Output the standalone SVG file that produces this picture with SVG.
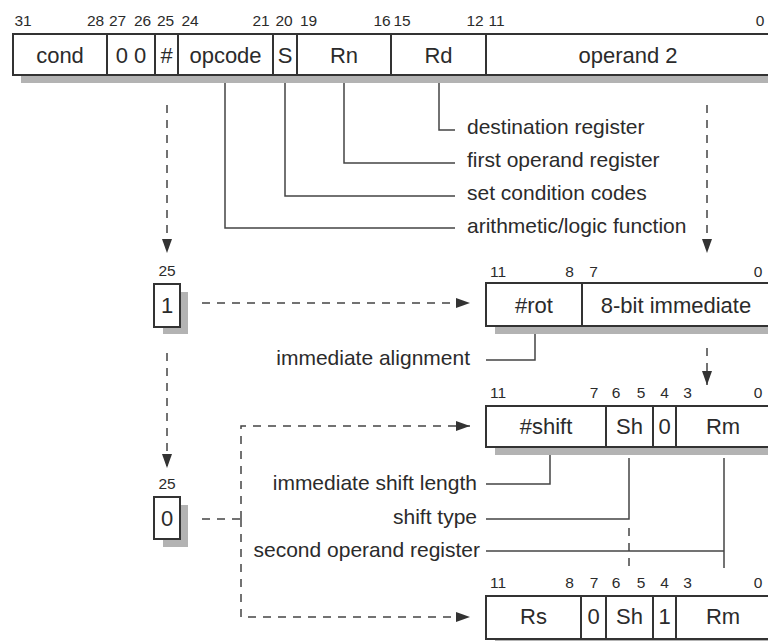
<svg xmlns="http://www.w3.org/2000/svg" width="768" height="641" viewBox="0 0 768 641">
<defs>
<style>
.box{fill:#fff;stroke:#333;stroke-width:2}
.sh{fill:#b3b3b3}
.div{stroke:#333;stroke-width:2}
.ft{font-family:"Liberation Sans",Arial,sans-serif;font-size:22px;fill:#2b2b2b;text-anchor:middle}
.bn{font-family:"Liberation Sans",Arial,sans-serif;font-size:15.5px;fill:#2b2b2b;text-anchor:middle}
.lb{font-family:"Liberation Sans",Arial,sans-serif;font-size:21px;fill:#2b2b2b}
.ld{fill:none;stroke:#444;stroke-width:1.5}
.da{fill:none;stroke:#444;stroke-width:1.5;stroke-dasharray:8 7}
</style>
<marker id="ah" markerUnits="userSpaceOnUse" markerWidth="14" markerHeight="10" refX="14" refY="5" orient="auto" viewBox="0 0 14 10">
<path d="M0,0 L14,5 L0,10 z" fill="#333"/>
</marker>
</defs>
<rect width="768" height="641" fill="#fff"/>

<g id="instruction-word">
<rect class="sh" x="21" y="42" width="760" height="41"/>
<rect class="box" x="13" y="34" width="770" height="41"/>
<line class="div" x1="107" y1="34" x2="107" y2="75"/>
<line class="div" x1="155" y1="34" x2="155" y2="75"/>
<line class="div" x1="178" y1="34" x2="178" y2="75"/>
<line class="div" x1="273" y1="34" x2="273" y2="75"/>
<line class="div" x1="297" y1="34" x2="297" y2="75"/>
<line class="div" x1="391" y1="34" x2="391" y2="75"/>
<line class="div" x1="486" y1="34" x2="486" y2="75"/>
<text class="ft" x="60" y="63">cond</text>
<text class="ft" x="131" y="63">0 0</text>
<text class="ft" x="166.5" y="63">#</text>
<text class="ft" x="225.5" y="63">opcode</text>
<text class="ft" x="285" y="63">S</text>
<text class="ft" x="344" y="63">Rn</text>
<text class="ft" x="438.5" y="63">Rd</text>
<text class="ft" x="628" y="63">operand 2</text>
<text class="bn" x="23" y="26">31</text>
<text class="bn" x="95.5" y="26">28</text>
<text class="bn" x="117.5" y="26">27</text>
<text class="bn" x="142.5" y="26">26</text>
<text class="bn" x="165.5" y="26">25</text>
<text class="bn" x="190" y="26">24</text>
<text class="bn" x="261" y="26">21</text>
<text class="bn" x="284" y="26">20</text>
<text class="bn" x="308.5" y="26">19</text>
<text class="bn" x="382" y="26">16</text>
<text class="bn" x="402" y="26">15</text>
<text class="bn" x="475" y="26">12</text>
<text class="bn" x="496.5" y="26">11</text>
<text class="bn" x="760" y="26">0</text>
</g>

<g id="bit25-one">
<rect class="sh" x="163" y="292" width="25" height="42"/>
<rect class="box" x="154" y="284" width="26" height="43"/>
<text class="ft" x="167" y="313">1</text>
<text class="bn" x="167" y="276">25</text>
</g>

<g id="bit25-zero">
<rect class="sh" x="163" y="505" width="25" height="42"/>
<rect class="box" x="154" y="497" width="26" height="42"/>
<text class="ft" x="167" y="526">0</text>
<text class="bn" x="167" y="489">25</text>
</g>

<g id="immediate-operand">
<rect class="sh" x="495" y="291" width="290" height="43"/>
<rect class="box" x="486" y="283" width="290" height="43"/>
<line class="div" x1="582" y1="283" x2="582" y2="326"/>
<text class="ft" x="534" y="313">#rot</text>
<text class="ft" x="676" y="313">8-bit immediate</text>
<text class="bn" x="498" y="277">11</text>
<text class="bn" x="569.5" y="277">8</text>
<text class="bn" x="593.5" y="277">7</text>
<text class="bn" x="758" y="277">0</text>
</g>

<g id="shift-immediate-operand">
<rect class="sh" x="495" y="414" width="290" height="41"/>
<rect class="box" x="486" y="406" width="290" height="41"/>
<line class="div" x1="606" y1="406" x2="606" y2="447"/>
<line class="div" x1="653" y1="406" x2="653" y2="447"/>
<line class="div" x1="676" y1="406" x2="676" y2="447"/>
<text class="ft" x="546" y="434">#shift</text>
<text class="ft" x="629.5" y="434">Sh</text>
<text class="ft" x="664.5" y="434">0</text>
<text class="ft" x="723" y="434">Rm</text>
<text class="bn" x="498" y="398">11</text>
<text class="bn" x="594" y="398">7</text>
<text class="bn" x="616" y="398">6</text>
<text class="bn" x="641" y="398">5</text>
<text class="bn" x="664.5" y="398">4</text>
<text class="bn" x="687.5" y="398">3</text>
<text class="bn" x="758" y="398">0</text>
</g>

<g id="shift-register-operand">
<rect class="sh" x="495" y="604" width="290" height="43"/>
<rect class="box" x="486" y="596" width="290" height="43"/>
<line class="div" x1="581" y1="596" x2="581" y2="639"/>
<line class="div" x1="606" y1="596" x2="606" y2="639"/>
<line class="div" x1="653" y1="596" x2="653" y2="639"/>
<line class="div" x1="676" y1="596" x2="676" y2="639"/>
<text class="ft" x="533.5" y="624">Rs</text>
<text class="ft" x="593.5" y="624">0</text>
<text class="ft" x="629.5" y="624">Sh</text>
<text class="ft" x="664.5" y="624">1</text>
<text class="ft" x="723" y="624">Rm</text>
<text class="bn" x="498" y="588">11</text>
<text class="bn" x="569.5" y="588">8</text>
<text class="bn" x="594" y="588">7</text>
<text class="bn" x="616" y="588">6</text>
<text class="bn" x="641" y="588">5</text>
<text class="bn" x="664.5" y="588">4</text>
<text class="bn" x="687.5" y="588">3</text>
<text class="bn" x="758" y="588">0</text>
</g>

<g id="labels">
<text class="lb" x="467" y="134">destination register</text>
<text class="lb" x="467" y="167">first operand register</text>
<text class="lb" x="467" y="200">set condition codes</text>
<text class="lb" x="467" y="233">arithmetic/logic function</text>
<text class="lb" x="470" y="365" text-anchor="end">immediate alignment</text>
<text class="lb" x="477" y="490" text-anchor="end">immediate shift length</text>
<text class="lb" x="477" y="524" text-anchor="end">shift type</text>
<text class="lb" x="480" y="557" text-anchor="end">second operand register</text>
</g>

<g id="connectors">
<path class="ld" d="M439,83 V130 H455"/>
<path class="ld" d="M344,83 V163 H455"/>
<path class="ld" d="M285,83 V196 H455"/>
<path class="ld" d="M225,83 V228 H455"/>
<path class="ld" d="M535,334 V360 H486"/>
<path class="ld" d="M550,455 V484 H486"/>
<path class="ld" d="M629,458 V519 H486"/>
<path class="ld" d="M724,458 V568"/>
<path class="ld" d="M724,551 H486"/>
<path class="da" d="M629,528 V568"/>
<path class="da" d="M167,105 V253" marker-end="url(#ah)"/>
<path class="da" d="M707,105 V253" marker-end="url(#ah)"/>
<path class="da" d="M202,303 H470" marker-end="url(#ah)"/>
<path class="da" d="M167,353 V468" marker-end="url(#ah)"/>
<path class="da" d="M707,348 V385" marker-end="url(#ah)"/>
<path class="da" d="M202,519 H241"/>
<path class="da" d="M241,519 V426 H470" marker-end="url(#ah)"/>
<path class="da" d="M241,519 V617 H470" marker-end="url(#ah)"/>
</g>
</svg>
